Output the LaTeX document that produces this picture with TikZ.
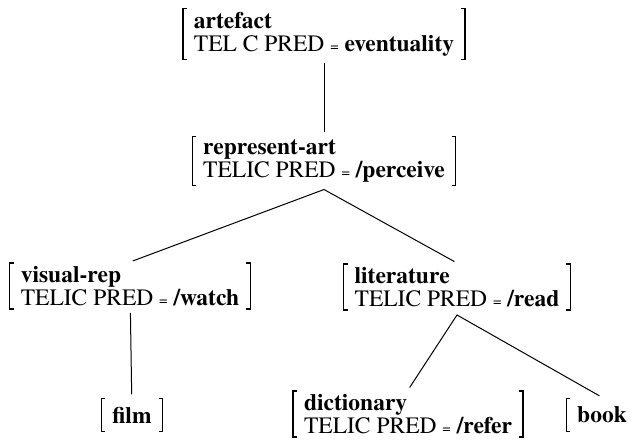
\documentclass[tikz,border=0pt]{standalone}
\usepackage{fontspec}
\setmainfont{texgyretermes}[Extension=.otf, UprightFont=*-regular, BoldFont=*-bold]
\tikzset{
  avm/.style={align=left, inner xsep=13pt, inner ysep=4pt,
    font=\fontsize{23.5}{23}\selectfont,
    path picture={
      \draw[line width=1.3pt] ([xshift=6pt,yshift=-0.7pt]path picture bounding box.north west)
        -- ++(-4pt,0) |- ([xshift=6pt,yshift=0.7pt]path picture bounding box.south west);
      \draw[line width=1.3pt] ([xshift=-6pt,yshift=-0.7pt]path picture bounding box.north east)
        -- ++(4pt,0) |- ([xshift=-6pt,yshift=0.7pt]path picture bounding box.south east);
    }},
  avmone/.style={avm, minimum height=35pt},
  branch/.style={line width=1pt, shorten <=3pt, shorten >=3pt}
}
\newcommand{\eqsm}{{\fontsize{15}{15}\selectfont=}}
\newcommand{\qualia}[3]{\textbf{#1}\\#2 \eqsm{} \textbf{#3}}
\begin{document}
\begin{tikzpicture}[x=1pt,y=1pt]
\useasboundingbox (0,0) rectangle (633,440);
\node[avm] (artefact) at (324,406) {\qualia{artefact}{TEL C PRED}{eventuality}};
\node[avm] (repart) at (324,279) {\qualia{represent-art}{TELIC PRED}{/perceive}};
\node[avm] (visrep) at (130,154) {\qualia{visual-rep}{TELIC PRED}{/watch}};
\node[avm] (lit) at (457,153) {\qualia{literature}{TELIC PRED}{/read}};
\node[avmone] (film) at (132,25) {\textbf{film}};
\node[avm] (dict) at (408,26) {\qualia{dictionary}{TELIC PRED}{/refer}};
\node[avmone] (book) at (602,25) {\textbf{book}};

\draw[branch] (artefact) -- (repart);
\draw[branch] (visrep.north) -- ([yshift=-3pt]repart.south) -- (lit.north);
\draw[branch] (visrep) -- (film);
\draw[branch] (dict.north) -- ([yshift=-4pt]lit.south) -- (book.north);
\end{tikzpicture}
\end{document}
